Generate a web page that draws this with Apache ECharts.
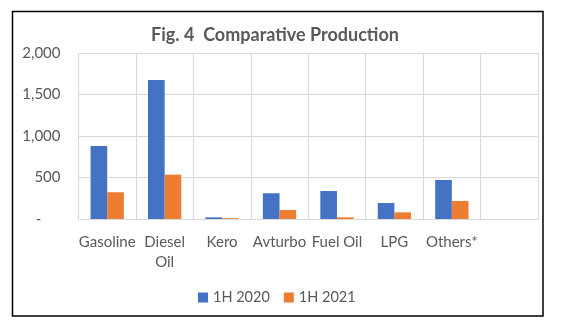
<!DOCTYPE html>
<html>
<head>
<meta charset="utf-8">
<script src="https://cdn.jsdelivr.net/npm/echarts@6/dist/echarts.min.js"></script>
<style>
  html, body { margin: 0; padding: 0; background: #fff; }
  #chart { width: 562px; height: 330px; }
</style>
</head>
<body>
<div id="chart"></div>
<script>
// Production by product, first half of each year
const categories = ['Gasoline', 'Diesel\nOil', 'Kero', 'Avturbo', 'Fuel Oil', 'LPG', 'Others*', ''];
const production2020 = [880, 1675, 20, 310, 337, 193, 470, null];
const production2021 = [322, 534, 10, 108, 20, 80, 217, null];
const yTicks = { min: 0, max: 2000, interval: 500 };

const FONT = 'Lato, "Open Sans", sans-serif';
const TEXT = '#595959';

const chart = echarts.init(document.getElementById('chart'), null, { renderer: 'canvas' });
chart.setOption({
  backgroundColor: '#ffffff',
  animation: false,
  title: {
    text: 'Fig. 4  Comparative Production',
    left: 270,
    textAlign: 'center',
    top: 21,
    textStyle: { fontFamily: FONT, fontSize: 18, fontWeight: 'bold', color: TEXT }
  },
  legend: {
    data: ['1H 2020', '1H 2021'],
    left: 193,
    top: 285,
    itemWidth: 10,
    itemHeight: 10,
    itemGap: 14,
    icon: 'rect',
    textStyle: { fontFamily: FONT, fontSize: 14.5, color: TEXT }
  },
  grid: { left: 78.5, right: 24, top: 53, bottom: 111, containLabel: false },
  xAxis: {
    type: 'category',
    data: categories,
    axisTick: { show: false },
    axisLine: { lineStyle: { color: '#D9D9D9', width: 1 } },
    splitLine: { show: true, lineStyle: { color: '#D9D9D9', width: 1 } },
    axisLabel: { fontFamily: FONT, fontSize: 15, color: TEXT, margin: 13, lineHeight: 20, interval: 0 }
  },
  yAxis: {
    type: 'value',
    min: yTicks.min,
    max: yTicks.max,
    interval: yTicks.interval,
    axisLine: { show: false },
    axisTick: { show: false },
    splitLine: { lineStyle: { color: '#D9D9D9', width: 1 } },
    axisLabel: {
      fontFamily: FONT, fontSize: 15, color: TEXT, margin: 18,
      formatter: v => v === 0 ? '-     ' : v.toLocaleString('en-US')
    }
  },
  series: [
    {
      name: '1H 2020', type: 'bar', data: production2020,
      itemStyle: { color: '#4472C4' },
      barGap: '0%', barCategoryGap: '42%'
    },
    {
      name: '1H 2021', type: 'bar', data: production2021,
      itemStyle: { color: '#ED7D31' },
      barGap: '0%', barCategoryGap: '42%'
    }
  ],
  graphic: [{
    type: 'rect',
    shape: { x: 12.5, y: 11.5, width: 530.5, height: 304.5 },
    style: { fill: 'none', stroke: '#000', lineWidth: 1.5 },
    silent: true
  }]
});
</script>
</body>
</html>
